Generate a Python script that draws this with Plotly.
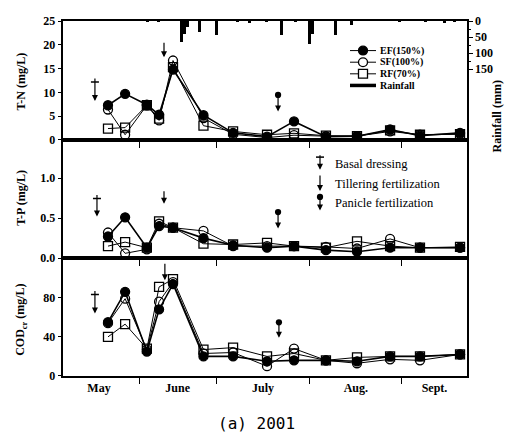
import plotly.graph_objects as go

# ---------------- data ----------------
sample_day = [15.4, 21.3, 28.8, 33.0, 37.8, 48.3, 58.5, 70.2, 79.5, 90.5, 101.2, 112.6, 122.9, 136.7]

tn_ef = [7.3, 9.7, 7.4, 5.3, 14.8, 5.2, 1.5, 0.7, 3.9, 0.7, 0.8, 2.2, 0.9, 1.5]
tn_sf = [6.4, 1.1, 7.3, 4.1, 16.7, 4.6, 1.2, 0.5, 1.0, 0.8, 0.8, 1.8, 1.1, 1.3]
tn_rf = [2.4, 2.6, 7.3, 4.5, 15.3, 3.0, 1.8, 1.1, 1.4, 0.9, 0.8, 2.0, 1.1, 1.2]

tp_ef = [0.27, 0.51, 0.13, 0.40, 0.38, 0.25, 0.16, 0.13, 0.15, 0.10, 0.08, 0.13, 0.13, 0.13]
tp_sf = [0.32, 0.06, 0.11, 0.43, 0.38, 0.34, 0.15, 0.15, 0.15, 0.14, 0.12, 0.24, 0.13, 0.13]
tp_rf = [0.15, 0.20, 0.13, 0.46, 0.38, 0.18, 0.17, 0.19, 0.15, 0.13, 0.21, 0.15, 0.13, 0.14]

cod_ef = [55, 86, 25, 68, 94, 20, 20, 15, 16, 16, 15, 20, 20, 22]
cod_sf = [54, 79, 27, 76, 96, 23, 24, 10, 28, 16, 13, 17, 16, 22]
cod_rf = [40, 53, 28, 91, 99, 27, 29, 20, 23, 16, 19, 20, 20, 22]

rain_day = [29, 33, 40.9, 42.0, 43.0, 47.1, 53.0, 60, 64.3, 70, 75.4, 80, 85.0, 86.0, 93.9, 99.5, 116, 125, 131.5, 135]
rain_mm = [2, 2, 66, 40, 20, 33, 42, 3, 5, 3, 45, 3, 72, 39, 42, 12, 2, 3, 6, 3]

month_bounds = [26.1, 52.8, 84.8, 116.7]
month_mid = [12.3, 39.4, 68.8, 100.8, 127.9]
month_labels = ["May", "June", "July", "Aug.", "Sept."]

series_names = ["EF(150%)", "SF(100%)", "RF(70%)"]

# event days (fertilization)
basal_day, tiller_day, panicle_day = 10.9, 34.7, 74.0

W, H = 508, 444
SERIF = "Liberation Serif"
BLACK = "black"

fig = go.Figure()

styles = [
    dict(symbol="circle", color=BLACK, lw=1.6),
    dict(symbol="circle-open", color=BLACK, lw=1.0),
    dict(symbol="square-open", color=BLACK, lw=1.0),
]

panels = [
    ("x", "y", [tn_ef, tn_sf, tn_rf]),
    ("x2", "y2", [tp_ef, tp_sf, tp_rf]),
    ("x3", "y3", [cod_ef, cod_sf, cod_rf]),
]
for xa, ya, sets in panels:
    for name, vals, st in zip(series_names, sets, styles):
        fig.add_trace(go.Scatter(
            x=sample_day, y=vals, xaxis=xa, yaxis=ya, name=name,
            mode="lines+markers", showlegend=False,
            line=dict(color=BLACK, width=st["lw"]),
            marker=dict(symbol=st["symbol"], size=9, color=BLACK,
                        line=dict(color=BLACK, width=1.3)),
        ))

fig.add_trace(go.Bar(
    x=rain_day, y=rain_mm, xaxis="x", yaxis="y4", name="Rainfall",
    marker=dict(color=BLACK, line=dict(width=0)), width=1.0, showlegend=False,
))

xdom = [63.3 / W, 466.7 / W]
def pdom(top_px, bot_px):
    return [1 - bot_px / H, 1 - top_px / H]

tickfont = dict(family=SERIF, size=12, color=BLACK)
common_x = dict(range=[0, 139], domain=xdom, showline=True, linecolor=BLACK, linewidth=1.5,
                mirror=True, showgrid=False, zeroline=False, tickfont=tickfont)

fig.update_layout(
    width=W, height=H, margin=dict(l=0, r=0, t=0, b=0),
    paper_bgcolor="white", plot_bgcolor="white", showlegend=False, bargap=0,
    xaxis=dict(common_x, anchor="y", tickmode="array", tickvals=month_bounds, ticktext=[""] * 4,
               ticks="outside", ticklen=6, tickcolor=BLACK, tickwidth=1.2),
    xaxis2=dict(common_x, anchor="y2", matches="x", tickmode="array", tickvals=month_bounds,
                ticktext=[""] * 4, ticks="outside", ticklen=6, tickcolor=BLACK, tickwidth=1.2),
    xaxis3=dict(common_x, anchor="y3", matches="x", tickmode="array", tickvals=month_mid,
                ticktext=["<b>%s</b>" % m for m in month_labels], ticks="", ticklen=0,
                minor=dict(tickmode="array", tickvals=month_bounds, ticks="outside", ticklen=6,
                           tickcolor=BLACK, tickwidth=1.2)),
    yaxis=dict(domain=pdom(14.5, 137.3), range=[0, 25], tickmode="array", tickvals=[0, 5, 10, 15, 20, 25],
               ticktext=["<b>%d</b>" % v for v in [0, 5, 10, 15, 20, 25]],
               showline=True, linecolor=BLACK, linewidth=1.5, mirror=True, ticks="outside", ticklen=4,
               tickcolor=BLACK, showgrid=False, zeroline=False, tickfont=tickfont, anchor="x"),
    yaxis2=dict(domain=pdom(137.3, 259.3), range=[0, 1.477], tickmode="array", tickvals=[0, 0.5, 1.0],
                ticktext=["<b>0.0</b>", "<b>0.5</b>", "<b>1.0</b>"],
                showline=True, linecolor=BLACK, linewidth=1.5, mirror=True, ticks="outside", ticklen=4,
                tickcolor=BLACK, showgrid=False, zeroline=False, tickfont=tickfont, anchor="x2"),
    yaxis3=dict(domain=pdom(259.3, 381), range=[0, 120.5], tickmode="array", tickvals=[0, 40, 80],
                ticktext=["<b>0</b>", "<b>40</b>", "<b>80</b>"],
                showline=True, linecolor=BLACK, linewidth=1.5, mirror=True, ticks="outside", ticklen=4,
                tickcolor=BLACK, showgrid=False, zeroline=False, tickfont=tickfont, anchor="x3"),
    yaxis4=dict(overlaying="y", side="right", anchor="x", range=[370, 0], tickmode="array",
                tickvals=[0, 50, 100, 150], ticktext=["<b>0</b>", "<b>50</b>", "<b>100</b>", "<b>150</b>"],
                ticks="outside", ticklen=5, tickcolor=BLACK, showline=False, showgrid=False,
                zeroline=False, tickfont=tickfont,
                minor=dict(tickmode="array", tickvals=[25, 75, 125], ticks="outside", ticklen=3,
                           tickcolor=BLACK)),
)

ann = []
shapes = []

def P(xp, yp):
    return xp / W, 1 - yp / H

# axis titles
for text, cx, cy in [("T-N (mg/L)", 21, 77), ("T-P (mg/L)", 21, 197),
                     ("COD<sub>cr</sub> (mg/L)", 21, 323)]:
    x, y = P(cx, cy)
    ann.append(dict(text="<b>%s</b>" % text, x=x, y=y, xref="paper", yref="paper", showarrow=False,
                    textangle=-90, font=dict(family=SERIF, size=12, color=BLACK),
                    xanchor="center", yanchor="middle"))
x, y = P(497, 113)
ann.append(dict(text="<b>Rainfall (mm)</b>", x=x, y=y, xref="paper", yref="paper", showarrow=False,
                textangle=-90, font=dict(family=SERIF, size=12, color=BLACK),
                xanchor="center", yanchor="middle"))

# caption
x, y = P(256, 430)
ann.append(dict(text="(a) 2001", x=x, y=y, xref="paper", yref="paper", showarrow=False,
                font=dict(family="DejaVu Sans Mono", size=16, color=BLACK),
                xanchor="center", yanchor="middle"))

# fertilization arrows in data coordinates
def arrow(xref, yref, xv, yv, length, kind):
    a = dict(x=xv, y=yv, xref=xref, yref=yref, ax=0, ay=-length, text="", showarrow=True,
             arrowhead=2, arrowsize=1, arrowwidth=1.2, arrowcolor=BLACK)
    if kind == "panicle":
        a.update(arrowside="end+start", startarrowhead=6, startarrowsize=1.3)
    ann.append(a)
    if kind == "basal":
        shapes.append(dict(type="line", xref=xref, yref=yref, xsizemode="pixel", ysizemode="pixel",
                           xanchor=xv, yanchor=yv, x0=-4, x1=4, y0=length - 5, y1=length - 5,
                           line=dict(color=BLACK, width=1.5)))

arrow("x", "y", basal_day, 8.2, 24, "basal")
arrow("x", "y", tiller_day, 17.4, 16, "tiller")
arrow("x", "y", panicle_day, 6.0, 18, "panicle")
arrow("x2", "y2", basal_day + 0.7, 0.52, 23, "basal")
arrow("x2", "y2", tiller_day, 0.68, 14, "tiller")
arrow("x2", "y2", panicle_day, 0.37, 18, "panicle")
arrow("x3", "y3", basal_day, 64, 24, "basal")
arrow("x3", "y3", tiller_day + 0.3, 98, 18, "tiller")
arrow("x3", "y3", panicle_day + 0.3, 39, 17, "panicle")

# fertilization legend (middle panel)
fert_labels = ["Basal dressing", "Tillering fertilization", "Panicle fertilization"]
fert_kinds = ["basal", "tiller", "panicle"]
text_rows = [162, 183, 202]
sym_spans = [(152, 168), (173, 190), (195, 210)]
for lab, kind, ty, (y_top, y_tip) in zip(fert_labels, fert_kinds, text_rows, sym_spans):
    x, y = P(320, y_tip)
    a = dict(x=x, y=y, xref="paper", yref="paper", ax=0, ay=-(y_tip - y_top), text="", showarrow=True,
             arrowhead=2, arrowsize=1, arrowwidth=1.2, arrowcolor=BLACK)
    if kind == "panicle":
        a.update(arrowside="end+start", startarrowhead=6, startarrowsize=1.3)
    ann.append(a)
    if kind == "basal":
        x0, y0 = P(316, y_top + 3)
        x1, _ = P(324, y_top + 3)
        shapes.append(dict(type="line", xref="paper", yref="paper", x0=x0, x1=x1, y0=y0, y1=y0,
                           line=dict(color=BLACK, width=1.5)))
    x, y = P(333, ty)
    ann.append(dict(text=lab, x=x, y=y, xref="paper", yref="paper", showarrow=False,
                    xanchor="left", yanchor="middle", font=dict(family=SERIF, size=12.5, color=BLACK)))

# series legend (top panel)
leg_rows = [45, 57, 69, 81]
leg_names = series_names + ["Rainfall"]
for i, (name, ry) in enumerate(zip(leg_names, leg_rows)):
    xa, ya = P(350, ry)
    xb, _ = P(376, ry)
    if i < 3:
        shapes.append(dict(type="line", xref="paper", yref="paper", x0=xa, x1=xb, y0=ya, y1=ya,
                           line=dict(color=BLACK, width=1)))
        cxl, cyt = P(363 - 4.5, ry - 4.5)
        cxr, cyb = P(363 + 4.5, ry + 4.5)
        fill = BLACK if i == 0 else "white"
        shapes.append(dict(type="circle" if i < 2 else "rect", xref="paper", yref="paper",
                           x0=cxl, x1=cxr, y0=cyb, y1=cyt, fillcolor=fill,
                           line=dict(color=BLACK, width=1.3)))
    else:
        shapes.append(dict(type="line", xref="paper", yref="paper", x0=xa, x1=xb, y0=ya, y1=ya,
                           line=dict(color=BLACK, width=3.5)))
    x, y = P(378, ry)
    ann.append(dict(text="<b>%s</b>" % name, x=x, y=y, xref="paper", yref="paper", showarrow=False,
                    xanchor="left", yanchor="middle", font=dict(family=SERIF, size=10, color=BLACK)))

fig.update_layout(annotations=ann, shapes=shapes)
fig.write_html("out.html")
